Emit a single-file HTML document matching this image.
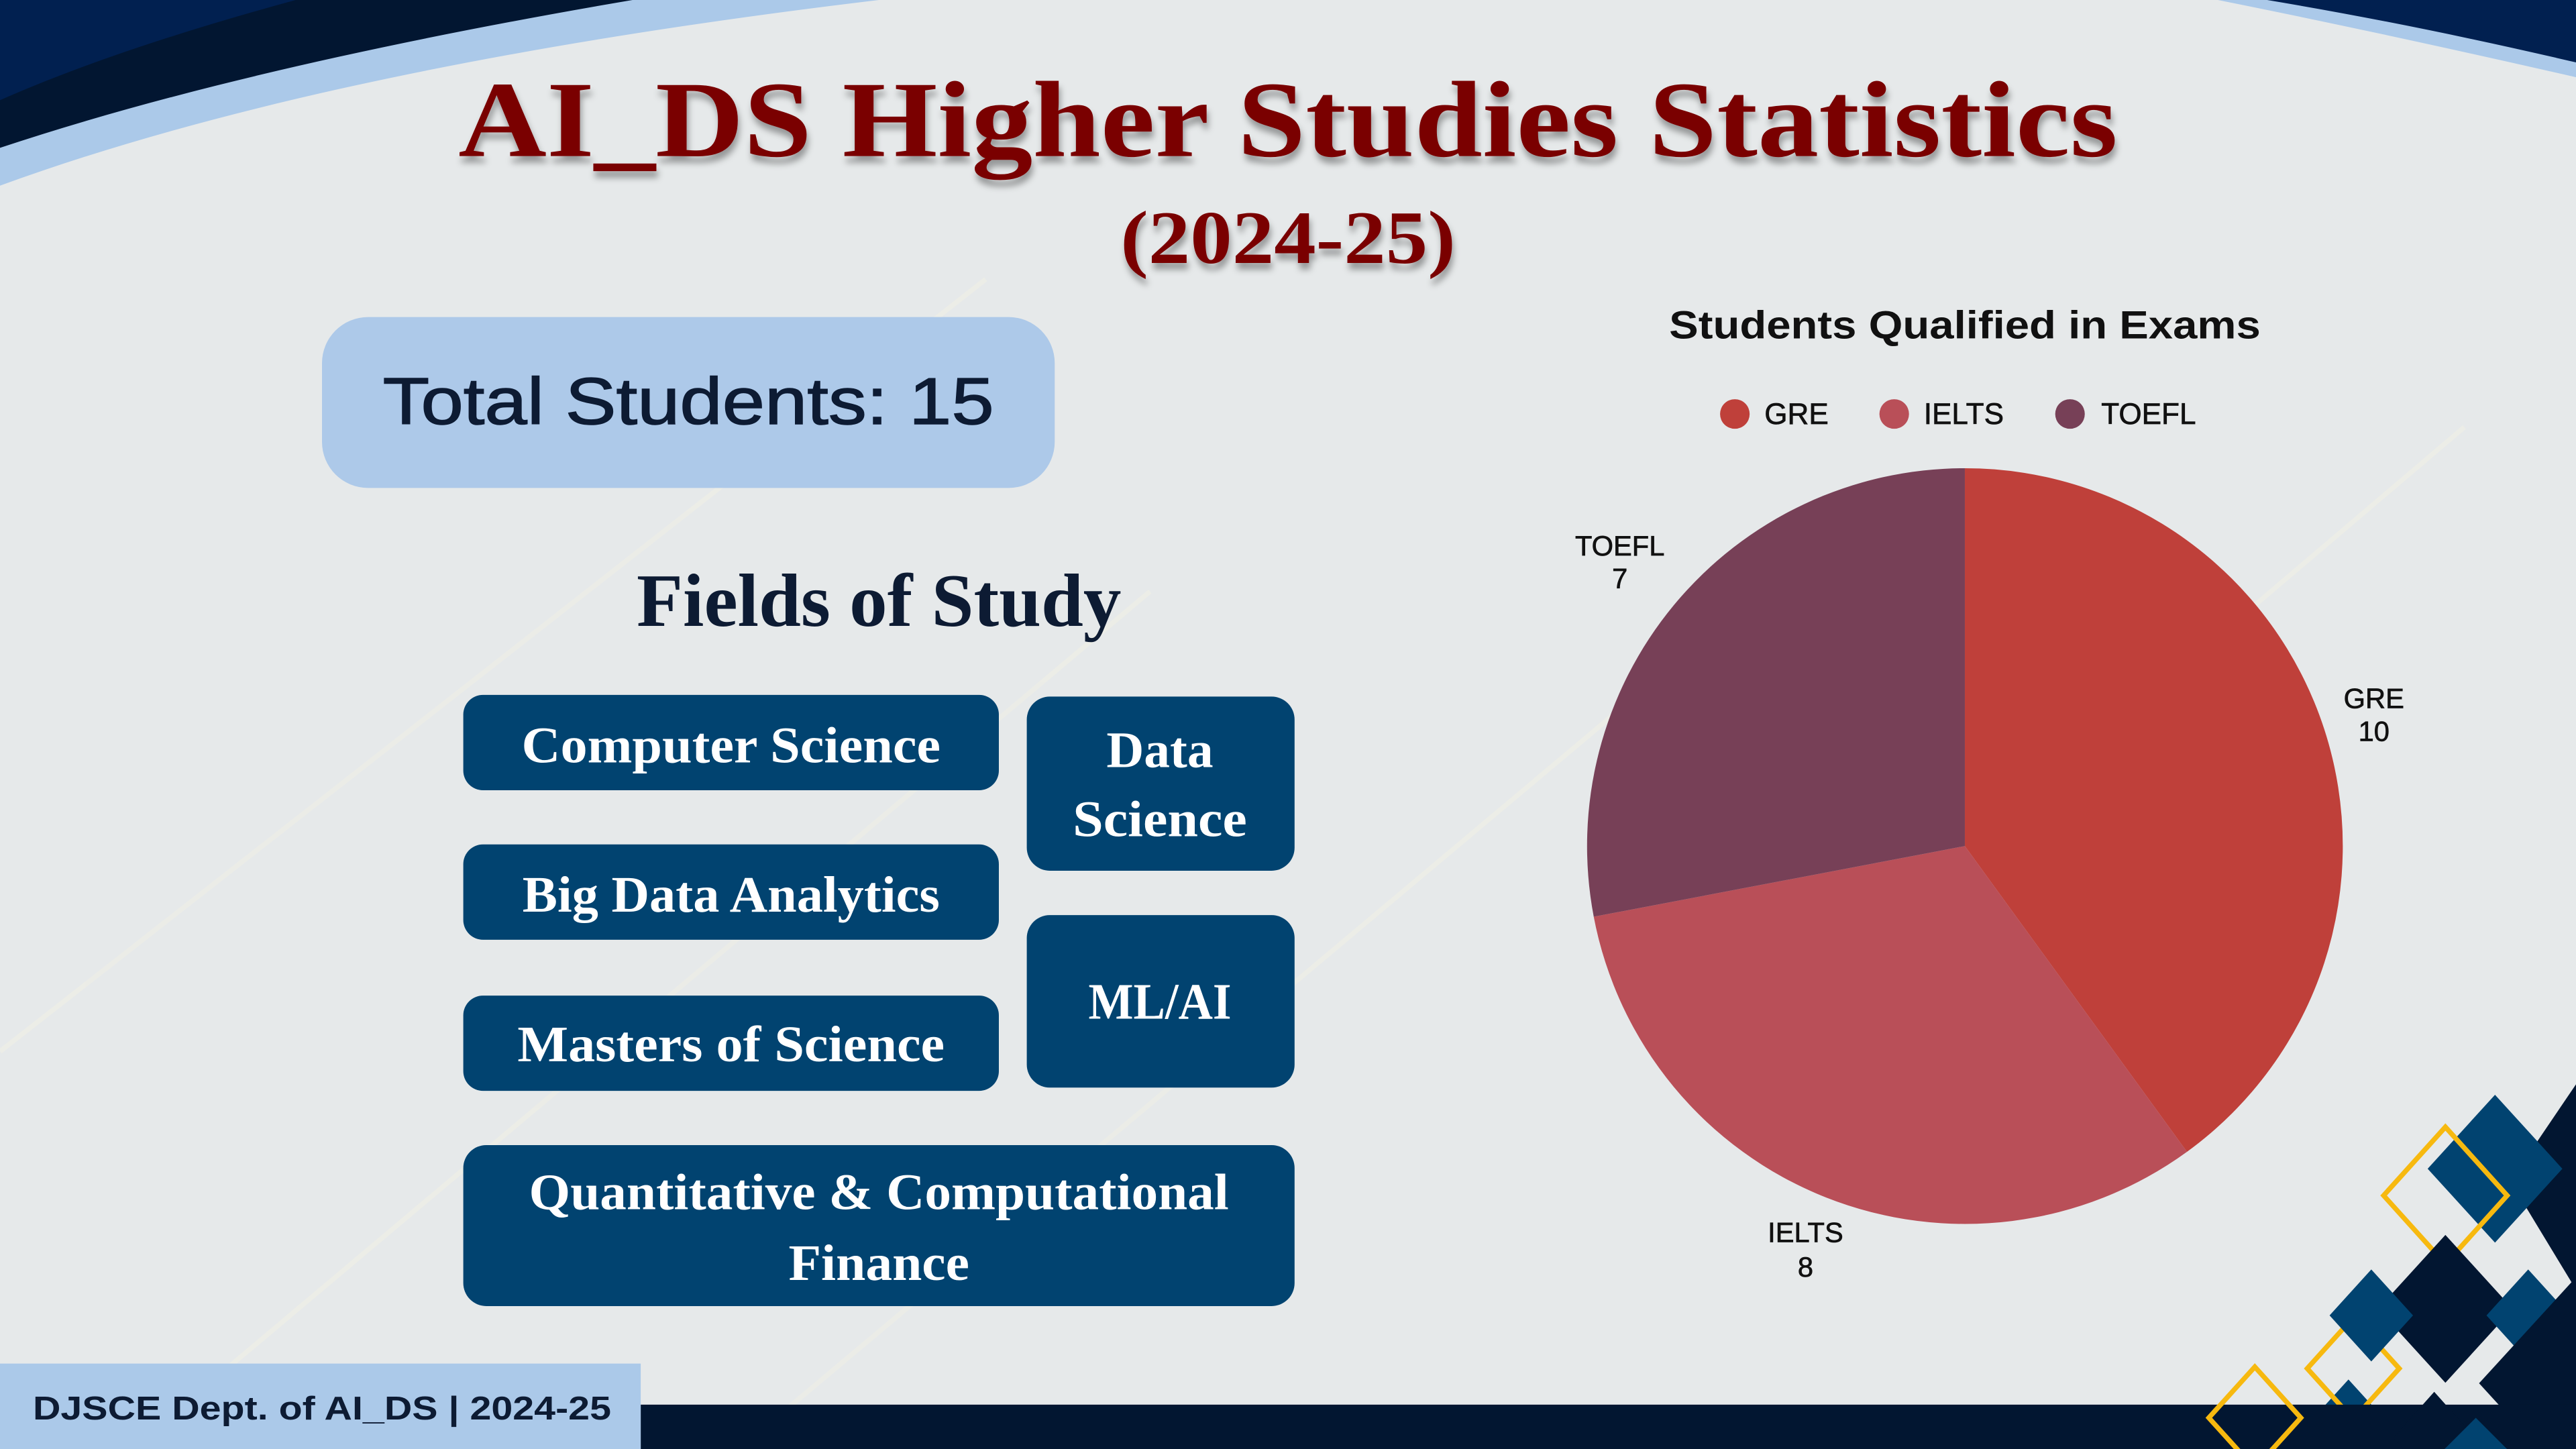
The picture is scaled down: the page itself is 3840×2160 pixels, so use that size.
<!DOCTYPE html>
<html><head><meta charset="utf-8"><style>
html,body{margin:0;padding:0;background:#e6e9ea;width:3840px;height:2160px;overflow:hidden;}
svg{display:block;position:absolute;left:0;top:0;}
.serif{font-family:"Liberation Serif",serif;font-weight:bold;}
.sans{font-family:"Liberation Sans",sans-serif;}
</style></head><body>
<svg width="3840" height="2160" viewBox="0 0 1568 882" xmlns="http://www.w3.org/2000/svg">
<defs>
<filter id="sh" x="-5%" y="-20%" width="110%" height="150%"><feDropShadow dx="1" dy="4" stdDeviation="2" flood-color="#000" flood-opacity="0.35"/></filter>
</defs>
<rect width="1568" height="882" fill="#e6e9ea"/>
<g stroke="#eeeee6" stroke-width="3" opacity="0.7" fill="none">
<path d="M0 640 L600 170"/><path d="M80 882 L700 360"/><path d="M450 882 L1000 420"/><path d="M1100 600 L1500 260"/>
</g>
<path d="M0 0 L535 0 Q200 40 0 113 Z" fill="#abc9e9"/>
<path d="M0 0 L385 0 Q150 40 0 90 Z" fill="#021631"/>
<path d="M0 0 L180 0 Q70 30 0 61 Z" fill="#012050"/>
<path d="M1350 0 L1568 0 L1568 47 Q1450 20 1350 0 Z" fill="#abc9e9"/>
<path d="M1380 0 L1568 0 L1568 38 Q1470 15 1380 0 Z" fill="#012050"/>
<text x="784" y="95" text-anchor="middle" class="serif" font-size="66" fill="#7a0000" textLength="1010" lengthAdjust="spacingAndGlyphs" filter="url(#sh)">AI_DS Higher Studies Statistics</text>
<text x="784" y="160" text-anchor="middle" class="serif" font-size="46" fill="#7a0000" textLength="204" lengthAdjust="spacingAndGlyphs" filter="url(#sh)">(2024-25)</text>
<rect x="196" y="193" width="446" height="104" rx="28" fill="#adc9e9"/>
<text x="419" y="258" text-anchor="middle" class="sans" font-size="40" fill="#0d1b33" stroke="#0d1b33" stroke-width="0.6" textLength="372" lengthAdjust="spacingAndGlyphs">Total Students: 15</text>
<text x="535" y="381" text-anchor="middle" class="serif" font-size="46" fill="#0d1b33" textLength="295" lengthAdjust="spacingAndGlyphs">Fields of Study</text>
<g fill="#014370">
<rect x="282" y="423" width="326" height="58" rx="12"/>
<rect x="625" y="424" width="163" height="106" rx="14"/>
<rect x="282" y="514" width="326" height="58" rx="12"/>
<rect x="625" y="557" width="163" height="105" rx="14"/>
<rect x="282" y="606" width="326" height="58" rx="12"/>
<rect x="282" y="697" width="506" height="98" rx="14"/>
</g>
<g class="serif" fill="#fff" font-size="31" text-anchor="middle">
<text x="445" y="464" textLength="255" lengthAdjust="spacingAndGlyphs">Computer Science</text>
<text x="706" y="467" textLength="65" lengthAdjust="spacingAndGlyphs">Data</text>
<text x="706" y="509" textLength="106" lengthAdjust="spacingAndGlyphs">Science</text>
<text x="445" y="555" textLength="254" lengthAdjust="spacingAndGlyphs">Big Data Analytics</text>
<text x="706" y="620" textLength="87" lengthAdjust="spacingAndGlyphs">ML/AI</text>
<text x="445" y="646" textLength="260" lengthAdjust="spacingAndGlyphs">Masters of Science</text>
<text x="535" y="736" textLength="426" lengthAdjust="spacingAndGlyphs">Quantitative &amp; Computational</text>
<text x="535" y="779" textLength="110" lengthAdjust="spacingAndGlyphs">Finance</text>
</g>
<text x="1196" y="206" text-anchor="middle" class="sans" font-weight="bold" font-size="24" fill="#111" textLength="360" lengthAdjust="spacingAndGlyphs">Students Qualified in Exams</text>
<g class="sans" font-size="18" fill="#111" stroke="#111" stroke-width="0.3">
<circle cx="1056" cy="252" r="9" fill="#bf403a" stroke="none"/><text x="1074" y="258">GRE</text>
<circle cx="1153" cy="252" r="9" fill="#b94f58" stroke="none"/><text x="1171" y="258">IELTS</text>
<circle cx="1260" cy="252" r="9" fill="#774057" stroke="none"/><text x="1279" y="258">TOEFL</text>
</g>
<path d="M1196 515 L1196 285 A230 230 0 0 1 1331.2 701.1 Z" fill="#bf403a"/>
<path d="M1196 515 L1331.2 701.1 A230 230 0 0 1 970.1 558 Z" fill="#b94f58"/>
<path d="M1196 515 L970.1 558 A230 230 0 0 1 1196 285 Z" fill="#774057"/>
<g class="sans" font-size="17" fill="#111" stroke="#111" stroke-width="0.3" text-anchor="middle">
<text x="986" y="338">TOEFL</text><text x="986" y="358">7</text>
<text x="1445" y="431">GRE</text><text x="1445" y="451">10</text>
<text x="1099" y="756">IELTS</text><text x="1099" y="777">8</text>
</g>
<g>
<polygon points="1568,660 1628,719 1568,785 1528,719" fill="#021631"/>
<polygon points="1518.7,666.4 1559.7,711.4 1518.7,756.4 1477.7,711.4" fill="#014370"/>
<polygon points="1488.5,686 1526.1,727.7 1488.5,769.4 1450.9,727.7" fill="none" stroke="#f7b90f" stroke-width="3"/>
<polygon points="1488.5,751.7 1529.5,796.7 1488.5,841.7 1447.5,796.7" fill="#021631"/>
<polygon points="1429.5,839.7 1455,867.7 1429.5,895.7 1404,867.7" fill="#014370"/>
<polygon points="1432.4,802 1460.4,833 1432.4,864 1404.4,833" fill="none" stroke="#f7b90f" stroke-width="3"/>
<polygon points="1443.4,772.7 1468.8,800.7 1443.4,828.7 1418,800.7" fill="#014370"/>
<polygon points="1538.9,772.7 1564.3,800.7 1538.9,828.7 1513.5,800.7" fill="#014370"/>
<polygon points="1573,772 1637,842 1573,912 1509,842" fill="#021631"/>
<rect x="390" y="855" width="1178" height="27" fill="#021631"/>
<polygon points="1481.7,847.2 1506.7,875.2 1481.7,903.2 1456.7,875.2" fill="#021631"/>
<polygon points="1507,863 1546,902 1507,941 1468,902" fill="#014370"/>
<polygon points="1372.5,832 1400.5,863 1372.5,894 1344.5,863" fill="none" stroke="#f7b90f" stroke-width="3"/>
</g>
<rect x="0" y="830" width="390" height="52" fill="#abc9e9"/>
<text x="20" y="864" class="sans" font-weight="bold" font-size="20" fill="#0d1b33" textLength="352" lengthAdjust="spacingAndGlyphs">DJSCE Dept. of AI_DS | 2024-25</text>
</svg>
</body></html>
